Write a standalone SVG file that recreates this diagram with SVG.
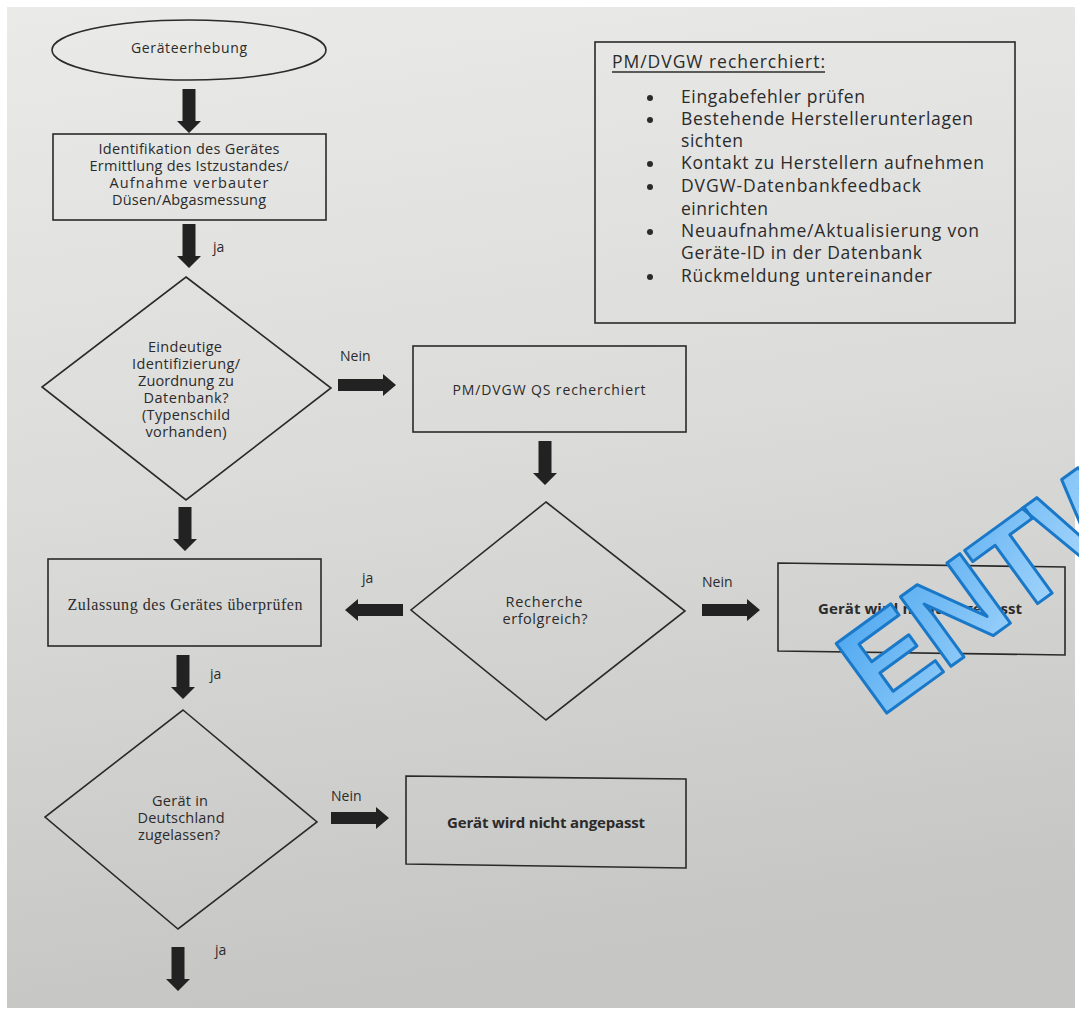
<svg xmlns="http://www.w3.org/2000/svg" width="1079" height="1012" viewBox="0 0 1079 1012">
<defs>
<linearGradient id="bg" x1="0" y1="0" x2="0.15" y2="1">
<stop offset="0" stop-color="#eaeae8"/>
<stop offset="0.5" stop-color="#dbdbd9"/>
<stop offset="1" stop-color="#c6c6c4"/>
</linearGradient>
<linearGradient id="wm" x1="0" y1="0" x2="1" y2="1">
<stop offset="0" stop-color="#45a3ef"/>
<stop offset="1" stop-color="#c4e6ff"/>
</linearGradient>
<polygon id="ad" points="-6.5,0 6.5,0 6.5,32 12,32 0,44 -12,32 -6.5,32"/>
<polygon id="ar" points="0,-6 45,-6 45,-11 58,0 45,11 45,6 0,6"/>
<style>
.shape{fill:none;stroke:#2a2a2a;stroke-width:1.6}
.t{font-family:"Open Sans","DejaVu Sans",sans-serif;font-size:14px;fill:#2b2b2b;text-anchor:middle}
.m{font-size:14.5px}
.b{font-weight:bold;font-size:15px}
.s{font-family:"Liberation Serif",serif;font-size:16px}
.lbl{font-family:"Open Sans","DejaVu Sans",sans-serif;font-size:14px;fill:#2b2b2b}
.li{font-family:"Open Sans","DejaVu Sans",sans-serif;font-size:17.5px;fill:#2b2b2b}
.arr{fill:#222}
</style>
</defs>
<rect width="1079" height="1012" fill="#ffffff"/>
<rect x="7" y="7" width="1068" height="1001" fill="url(#bg)"/>

<g id="start">
<ellipse class="shape" cx="189" cy="50" rx="137" ry="30"/>
<text class="t" x="189" y="53" textLength="116">Geräteerhebung</text>
</g>

<g id="identifikation">
<rect class="shape" x="53" y="134" width="273" height="86"/>
<text class="t m" x="189" y="154" textLength="181">Identifikation des Gerätes</text>
<text class="t m" x="189" y="171" textLength="199">Ermittlung des Istzustandes/</text>
<text class="t m" x="189" y="188" textLength="159">Aufnahme verbauter</text>
<text class="t m" x="189" y="205" textLength="154">Düsen/Abgasmessung</text>
</g>

<g id="eindeutig">
<polygon class="shape" points="186,277 331,388 186,500 42,387"/>
<text class="t m" x="185" y="352" textLength="74">Eindeutige</text>
<text class="t m" x="186" y="369" textLength="108">Identifizierung/</text>
<text class="t m" x="186" y="386" textLength="96">Zuordnung zu</text>
<text class="t m" x="186" y="403" textLength="85">Datenbank?</text>
<text class="t m" x="186" y="420" textLength="88">(Typenschild</text>
<text class="t m" x="186" y="437" textLength="81">vorhanden)</text>
</g>

<g id="qs">
<rect class="shape" x="413" y="346" width="273" height="86"/>
<text class="t" x="549" y="395" textLength="193">PM/DVGW QS recherchiert</text>
</g>

<g id="recherche">
<polygon class="shape" points="546,502 685,611 546,720 411,610"/>
<text class="t m" x="544" y="607" textLength="77">Recherche</text>
<text class="t m" x="545" y="624" textLength="85">erfolgreich?</text>
</g>

<g id="zulassung">
<rect class="shape" x="48" y="559" width="273" height="87"/>
<text class="t s" x="185" y="610" textLength="235">Zulassung des Gerätes überprüfen</text>
</g>

<g id="nicht1">
<polygon class="shape" points="778,563 1065,567 1065,655 778,651"/>
<text class="t b" x="920" y="614" textLength="204">Gerät wird nicht angepasst</text>
</g>

<g id="deutschland">
<polygon class="shape" points="183,710 317,822 178,929 45,817"/>
<text class="t m" x="180" y="806" textLength="56">Gerät in</text>
<text class="t m" x="181" y="823" textLength="87">Deutschland</text>
<text class="t m" x="179" y="840" textLength="82">zugelassen?</text>
</g>

<g id="nicht2">
<polygon class="shape" points="406,776 686,779 686,868 406,864"/>
<text class="t b" x="546" y="828" textLength="198">Gerät wird nicht angepasst</text>
</g>

<g id="info">
<rect class="shape" x="595" y="42" width="420" height="281"/>
<text class="li" x="612" y="68" textLength="213">PM/DVGW recherchiert:</text>
<line x1="612" y1="72" x2="825" y2="72" stroke="#2b2b2b" stroke-width="1.3"/>
<g fill="#2b2b2b">
<circle cx="650" cy="98" r="3"/>
<circle cx="650" cy="120" r="3"/>
<circle cx="650" cy="164" r="3"/>
<circle cx="650" cy="187" r="3"/>
<circle cx="650" cy="232" r="3"/>
<circle cx="650" cy="277" r="3"/>
</g>
<text class="li" x="681" y="103" textLength="184">Eingabefehler prüfen</text>
<text class="li" x="681" y="125" textLength="292">Bestehende Herstellerunterlagen</text>
<text class="li" x="681" y="147" textLength="62">sichten</text>
<text class="li" x="681" y="169" textLength="303">Kontakt zu Herstellern aufnehmen</text>
<text class="li" x="681" y="192" textLength="240">DVGW-Datenbankfeedback</text>
<text class="li" x="681" y="215" textLength="87">einrichten</text>
<text class="li" x="681" y="237" textLength="298">Neuaufnahme/Aktualisierung von</text>
<text class="li" x="681" y="259" textLength="241">Geräte-ID in der Datenbank</text>
<text class="li" x="681" y="282" textLength="251">Rückmeldung untereinander</text>
</g>

<g id="connectors">
<g class="arr">
<use href="#ad" transform="translate(189,89)"/>
<use href="#ad" transform="translate(189,224)"/>
<use href="#ar" transform="translate(338,385)"/>
<use href="#ad" transform="translate(545,441)"/>
<use href="#ad" transform="translate(185,507)"/>
<use href="#ar" transform="translate(403,610) rotate(180)"/>
<use href="#ar" transform="translate(702,610)"/>
<use href="#ad" transform="translate(183,655)"/>
<use href="#ar" transform="translate(331,818)"/>
<use href="#ad" transform="translate(178,947)"/>
</g>
<text class="lbl" x="213" y="252">ja</text>
<text class="lbl" x="340" y="361">Nein</text>
<text class="lbl" x="362" y="583">ja</text>
<text class="lbl" x="702" y="587">Nein</text>
<text class="lbl" x="210" y="679">ja</text>
<text class="lbl" x="331" y="801">Nein</text>
<text class="lbl" x="215" y="955">ja</text>
</g>

<text x="0" y="0" transform="translate(880,718) rotate(-36)" font-family="Liberation Sans, Arial, sans-serif" font-weight="bold" font-size="125" letter-spacing="-4" fill="url(#wm)" stroke="#1a78c8" stroke-width="3" stroke-linejoin="round">ENTW</text>
</svg>
